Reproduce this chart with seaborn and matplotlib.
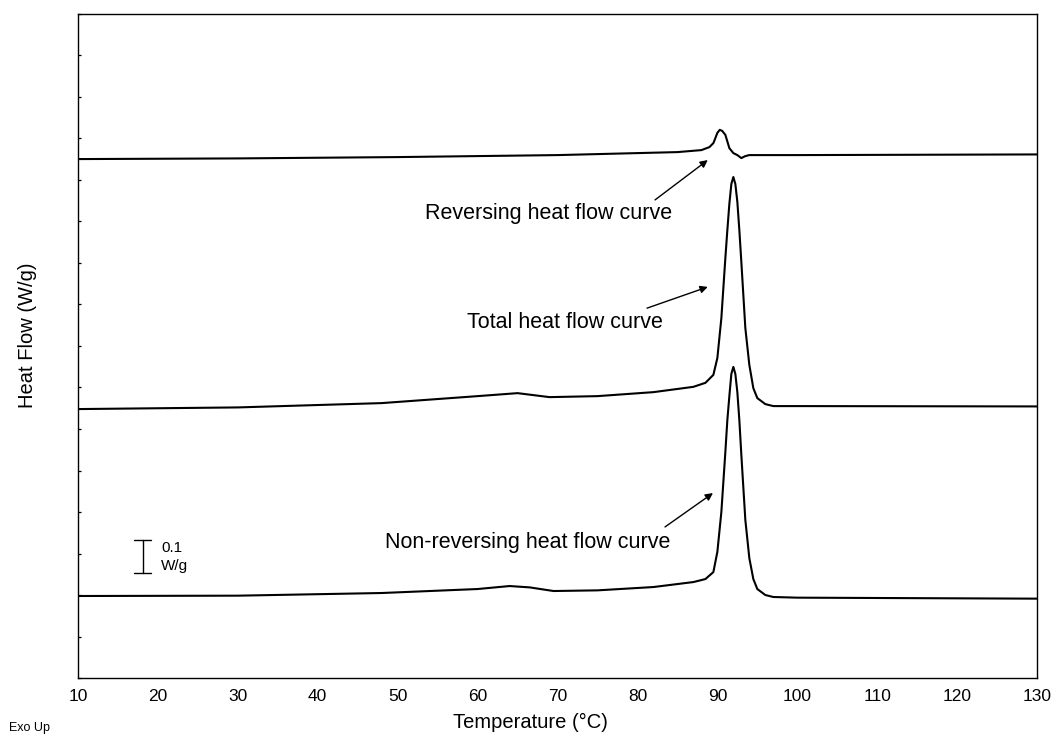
import matplotlib
matplotlib.use("Agg")
import matplotlib.pyplot as plt
import seaborn as sns
import pandas as pd
from matplotlib.ticker import MultipleLocator, NullFormatter

# ---- data ----
rev_T = [10, 30, 50, 70, 85, 88, 89, 89.5, 89.7, 90, 90.3, 90.6, 91, 91.5, 92, 92.5, 93, 93.5, 94, 100, 130]
rev_HF = [1.563, 1.565, 1.569, 1.575, 1.584, 1.590, 1.599, 1.611, 1.623, 1.642, 1.651, 1.648, 1.636, 1.596,
          1.581, 1.575, 1.566, 1.572, 1.575, 1.575, 1.577]

tot_T = [10, 30, 48, 60, 65, 67, 69, 75, 82, 87, 88.5, 89.5, 90, 90.5, 91, 91.25, 91.5, 91.75, 92, 92.25,
         92.5, 92.75, 93, 93.5, 94, 94.5, 95, 96, 97, 100, 130]
tot_HF = [0.810, 0.815, 0.828, 0.849, 0.858, 0.852, 0.846, 0.849, 0.861, 0.877, 0.889, 0.913, 0.964, 1.084,
          1.265, 1.349, 1.428, 1.488, 1.509, 1.488, 1.434, 1.349, 1.253, 1.054, 0.943, 0.873, 0.843, 0.825,
          0.819, 0.819, 0.818]

nrev_T = [10, 30, 48, 60, 64, 66.5, 69.5, 75, 82, 87, 88.5, 89.5, 90, 90.5, 91, 91.25, 91.5, 91.75, 92, 92.25,
          92.5, 92.75, 93, 93.5, 94, 94.5, 95, 96, 97, 100, 130]
nrev_HF = [0.247, 0.248, 0.256, 0.268, 0.277, 0.273, 0.262, 0.264, 0.274, 0.289, 0.298, 0.319, 0.380, 0.500,
           0.681, 0.777, 0.849, 0.916, 0.937, 0.916, 0.861, 0.777, 0.672, 0.476, 0.361, 0.298, 0.268, 0.250,
           0.244, 0.242, 0.239]

x_ticks = [10, 20, 30, 40, 50, 60, 70, 80, 90, 100, 110, 120, 130]
labels = ["Reversing heat flow curve", "Total heat flow curve", "Non-reversing heat flow curve"]
scale_bar = 0.1  # W/g

sns.set_style("white")
plt.rcParams["font.family"] = ["Liberation Sans", "DejaVu Sans"]
plt.rcParams["text.color"] = "black"
plt.rcParams["axes.labelcolor"] = "black"
plt.rcParams["xtick.color"] = "black"
plt.rcParams["ytick.color"] = "black"

fig = plt.figure(figsize=(10.55, 7.44), dpi=100)
ax = fig.add_axes([0.0739, 0.0887, 0.983 - 0.0739, 0.9812 - 0.0887])

df = pd.concat([
    pd.DataFrame({"T": rev_T, "HF": rev_HF, "curve": labels[0]}),
    pd.DataFrame({"T": tot_T, "HF": tot_HF, "curve": labels[1]}),
    pd.DataFrame({"T": nrev_T, "HF": nrev_HF, "curve": labels[2]}),
])
for name in labels:
    sub = df[df["curve"] == name]
    sns.lineplot(data=sub, x="T", y="HF", ax=ax, color="black", linewidth=1.5,
                 sort=False, estimator=None, legend=False)

ax.set_xlim(10, 130)
ax.set_ylim(0, 2.0)
ax.set_xticks(x_ticks)
ax.xaxis.set_minor_locator(MultipleLocator(5))
ax.yaxis.set_major_locator(MultipleLocator(0.125))
ax.yaxis.set_major_formatter(NullFormatter())
ax.tick_params(axis="x", which="major", direction="out", length=5, width=0.9, labelsize=12.5,
               color="black", labelcolor="black", pad=3)
ax.tick_params(axis="x", which="minor", direction="out", length=4, width=0.9, color="black")
ax.tick_params(axis="y", which="major", direction="in", length=2, width=0.9, color="black", left=True)
for s in ax.spines.values():
    s.set_color("black")
    s.set_linewidth(1.0)

ax.set_xlabel("Temperature (°C)", fontsize=14.5, color="black")
ax.set_ylabel("Heat Flow (W/g)", fontsize=14.5, color="black")
ax.xaxis.set_label_coords(0.472, -0.052)
ax.yaxis.set_label_coords(-0.043, 0.516)

fig.text(0.0085, 0.022, "Exo Up", fontsize=9, ha="left", va="center", color="black")

# annotations
arrow = dict(arrowstyle="-|>", color="black", lw=1.0, mutation_scale=11, shrinkA=0, shrinkB=0)
ax.annotate("", xy=(88.8, 1.560), xytext=(82.2, 1.440), arrowprops=arrow)
ax.text(68.9, 1.398, labels[0], fontsize=15.5, ha="center", va="center", color="black")
ax.annotate("", xy=(88.8, 1.178), xytext=(81.2, 1.114), arrowprops=arrow)
ax.text(70.9, 1.072, labels[1], fontsize=15.5, ha="center", va="center", color="black")
ax.annotate("", xy=(89.45, 0.557), xytext=(83.45, 0.455), arrowprops=arrow)
ax.text(66.3, 0.407, labels[2], fontsize=15.5, ha="center", va="center", color="black")

# scale bar
bar_x, bar_y0 = 18.1, 0.317
ax.plot([bar_x, bar_x], [bar_y0, bar_y0 + scale_bar], color="black", lw=1.0)
ax.plot([bar_x - 1.1, bar_x + 1.1], [bar_y0, bar_y0], color="black", lw=1.0)
ax.plot([bar_x - 1.1, bar_x + 1.1], [bar_y0 + scale_bar, bar_y0 + scale_bar], color="black", lw=1.0)
ax.text(bar_x + 2.3, bar_y0 + 0.075, "0.1", fontsize=11, ha="left", va="center", color="black")
ax.text(bar_x + 2.3, bar_y0 + 0.02, "W/g", fontsize=11, ha="left", va="center", color="black")

fig.savefig("out.png", dpi=100)
